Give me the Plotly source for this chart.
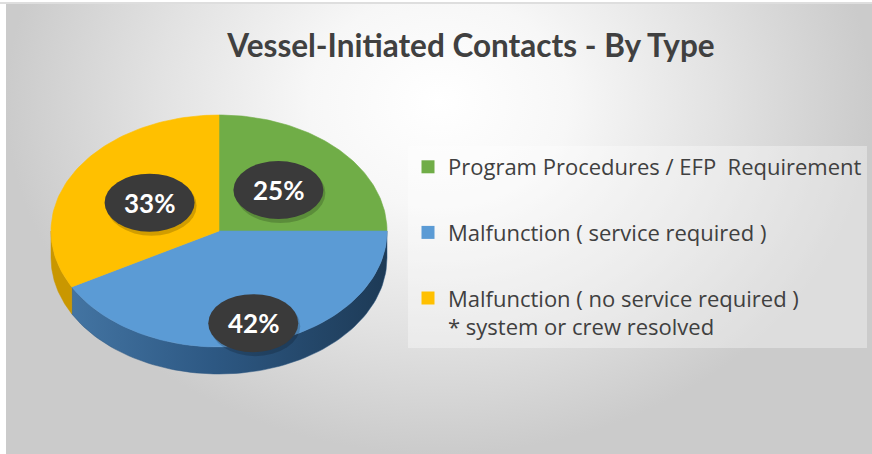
import numpy as np
import plotly.graph_objects as go

# data
labels = ["Program Procedures / EFP  Requirement",
          "Malfunction ( service required )",
          "Malfunction ( no service required )<br>* system or crew resolved"]
values = [25, 42, 33]
top_colors = ["#70ad47", "#5b9bd5", "#ffc000"]
side_colors = ["#4e7a31", "#2c5681", "#c99700"]

W, H = 872, 454
cx, cy, rx, ry, depth = 219, 231, 168, 116, 27
lbl_r = [0.5, 0.82, 0.48]
head_font = "Lato, Roboto, sans-serif"


def edge(a0, a1, dy=0.0, n=80):
    t = np.radians(np.linspace(a0, a1, n))
    return cx + rx * np.sin(t), cy - ry * np.cos(t) + dy


fig = go.Figure()

# gradient backdrop
fig.add_trace(go.Scatter(
    x=[6, W, W, 6, 6], y=[-250, -250, H, H, -250], mode="lines",
    fill="toself", line=dict(width=0),
    fillgradient=dict(type="radial", colorscale=[
        [0, "#ffffff"], [0.3, "#f7f7f7"], [0.65, "#e2e2e2"], [1, "#cbcbcb"]]),
    hoverinfo="skip", showlegend=False))

vals = np.array(values, dtype=float)
ends = np.cumsum(vals) / vals.sum() * 360
starts = ends - vals / vals.sum() * 360

# side walls (front half only)
for s, e, sc in zip(starts, ends, side_colors):
    a0, a1 = max(s, 90), min(e, 270)
    if a1 <= a0:
        continue
    xt, yt = edge(a0, a1)
    xb, yb = edge(a1, a0, depth)
    grad = None
    if sc == "#2c5681":
        grad = dict(type="horizontal", colorscale=[
            [0, "#4374a2"], [0.45, "#2d5883"], [1, "#1d3a56"]])
    fig.add_trace(go.Scatter(
        x=np.r_[xt, xb, xt[:1]], y=np.r_[yt, yb, yt[:1]], mode="lines",
        fill="toself", fillcolor=sc, fillgradient=grad,
        line=dict(width=0.5, color=sc), hoverinfo="skip", showlegend=False))

# top faces
for s, e, c in zip(starts, ends, top_colors):
    xe, ye = edge(s, e)
    fig.add_trace(go.Scatter(
        x=np.r_[cx, xe, cx], y=np.r_[cy, ye, cy], mode="lines",
        fill="toself", fillcolor=c, line=dict(width=0.6, color=c),
        hoverinfo="skip", showlegend=False))

# percentage bubbles
for s, e, v, f in zip(starts, ends, values, lbl_r):
    m = np.radians((s + e) / 2)
    lx = cx + rx * f * np.sin(m)
    ly = cy - ry * f * np.cos(m)
    fig.add_shape(type="circle", xref="x", yref="y",
                  x0=lx - 43, x1=lx + 47, y0=ly - 27, y1=ly + 33,
                  fillcolor="rgba(0,0,0,0.18)", line_width=0)
    fig.add_shape(type="circle", xref="x", yref="y",
                  x0=lx - 45, x1=lx + 45, y0=ly - 29, y1=ly + 29,
                  fillcolor="#3a3a3a", line_width=0)
    fig.add_annotation(x=lx, y=ly, text=f"<b>{v}%</b>", showarrow=False,
                       font=dict(family=head_font, size=26, color="white"))

# legend entries
for name, c, g in zip(labels, top_colors, ["a", "b", "c"]):
    fig.add_trace(go.Scatter(
        x=[None], y=[None], mode="markers", name=name, legendgroup=g,
        marker=dict(symbol="square", size=13, color=c)))

fig.add_shape(type="rect", xref="paper", yref="paper", x0=0, x1=1,
              y0=1 - 4 / H, y1=1, fillcolor="white", line_width=0, layer="above")
fig.add_shape(type="line", xref="paper", yref="paper", x0=0, x1=1,
              y0=1 - 3 / H, y1=1 - 3 / H, line=dict(color="#bdbdbd", width=1),
              layer="above")

fig.update_layout(
    width=W, height=H,
    margin=dict(l=0, r=0, t=0, b=0),
    paper_bgcolor="white", plot_bgcolor="white",
    title=dict(text="<b>Vessel-Initiated Contacts - By Type</b>",
               x=471 / W, xanchor="center", y=1 - 46 / H, yanchor="middle",
               font=dict(family=head_font, size=31.5, color="#404040")),
    xaxis=dict(range=[0, W], visible=False, fixedrange=True),
    yaxis=dict(range=[H, 0], visible=False, fixedrange=True),
    legend=dict(x=408 / W, xanchor="left", y=1 - 146 / H, yanchor="top",
                bgcolor="rgba(255,255,255,0.35)", tracegroupgap=34,
                valign="top", itemwidth=30,
                font=dict(family="Open Sans", size=22, color="#404040")),
    showlegend=True,
)

fig.write_html("out.html", config={"displayModeBar": False},
               post_script="document.body.style.margin='0';")
